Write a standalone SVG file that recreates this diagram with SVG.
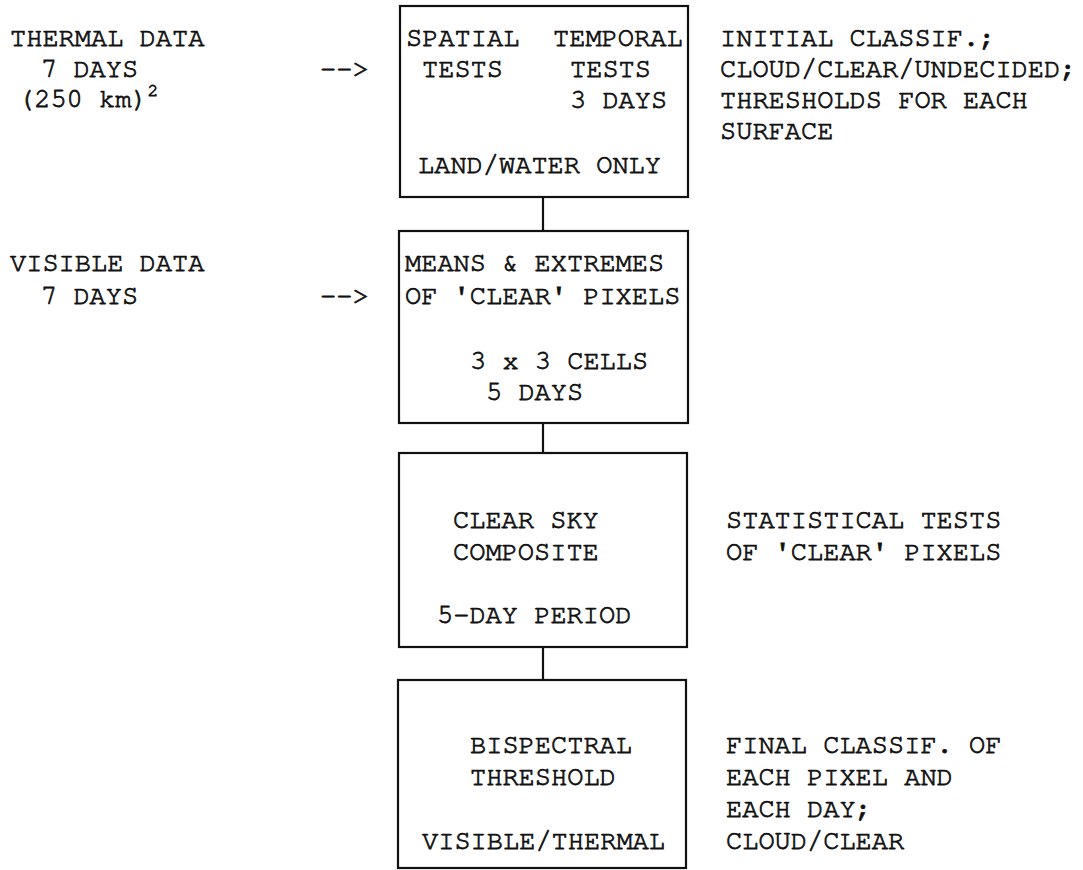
<svg xmlns="http://www.w3.org/2000/svg" width="1083" height="870" viewBox="0 0 1083 870">
<style>
text{font-family:"Nimbus Mono PS","FreeMono","Liberation Mono","Courier New",monospace;font-size:27px;fill:#111;stroke:#111;stroke-width:0.8}
.box{fill:none;stroke:#111;stroke-width:2.2}
.con{stroke:#111;stroke-width:2.2;fill:none}
.sup{font-size:18px}
</style>
<rect width="1083" height="870" fill="#fff"/>
<g id="connectors">
<line class="con" x1="543" y1="197" x2="543" y2="231"/>
<line class="con" x1="543" y1="423" x2="543" y2="453"/>
<line class="con" x1="543" y1="647" x2="543" y2="680"/>
</g>
<g id="thermal-input">
<text x="10" y="46">THERMAL DATA</text>
<text x="41" y="77">7 DAYS</text>
<text x="18" y="107">(250 km)<tspan class="sup" dy="-11">2</tspan></text>
<text x="320" y="77">--&gt;</text>
</g>
<g id="box1">
<rect class="box" x="400" y="6" width="288" height="191"/>
<text x="406" y="46">SPATIAL</text>
<text x="553" y="46">TEMPORAL</text>
<text x="422" y="77">TESTS</text>
<text x="570" y="77">TESTS</text>
<text x="570" y="108">3 DAYS</text>
<text x="418" y="173">LAND/WATER ONLY</text>
</g>
<g id="note1">
<text x="720" y="46">INITIAL CLASSIF.;</text>
<text x="720" y="77">CLOUD/CLEAR/UNDECIDED;</text>
<text x="720" y="108">THRESHOLDS FOR EACH</text>
<text x="720" y="139">SURFACE</text>
</g>
<g id="visible-input">
<text x="10" y="271">VISIBLE DATA</text>
<text x="41" y="304">7 DAYS</text>
<text x="320" y="304">--&gt;</text>
</g>
<g id="box2">
<rect class="box" x="399" y="231" width="289" height="192"/>
<text x="405" y="271">MEANS &amp; EXTREMES</text>
<text x="405" y="304">OF 'CLEAR' PIXELS</text>
<text x="470" y="369">3 x 3 CELLS</text>
<text x="486" y="400">5 DAYS</text>
</g>
<g id="box3">
<rect class="box" x="399" y="453" width="288" height="194"/>
<text x="453" y="528">CLEAR SKY</text>
<text x="453" y="560">COMPOSITE</text>
<text x="437" y="623">5-DAY PERIOD</text>
</g>
<g id="note3">
<text x="726" y="528">STATISTICAL TESTS</text>
<text x="726" y="560">OF 'CLEAR' PIXELS</text>
</g>
<g id="box4">
<rect class="box" x="398" y="680" width="288" height="188"/>
<text x="470" y="753">BISPECTRAL</text>
<text x="470" y="785">THRESHOLD</text>
<text x="422" y="849">VISIBLE/THERMAL</text>
</g>
<g id="note4">
<text x="726" y="753">FINAL CLASSIF. OF</text>
<text x="726" y="785">EACH PIXEL AND</text>
<text x="726" y="817">EACH DAY;</text>
<text x="726" y="849">CLOUD/CLEAR</text>
</g>
</svg>
